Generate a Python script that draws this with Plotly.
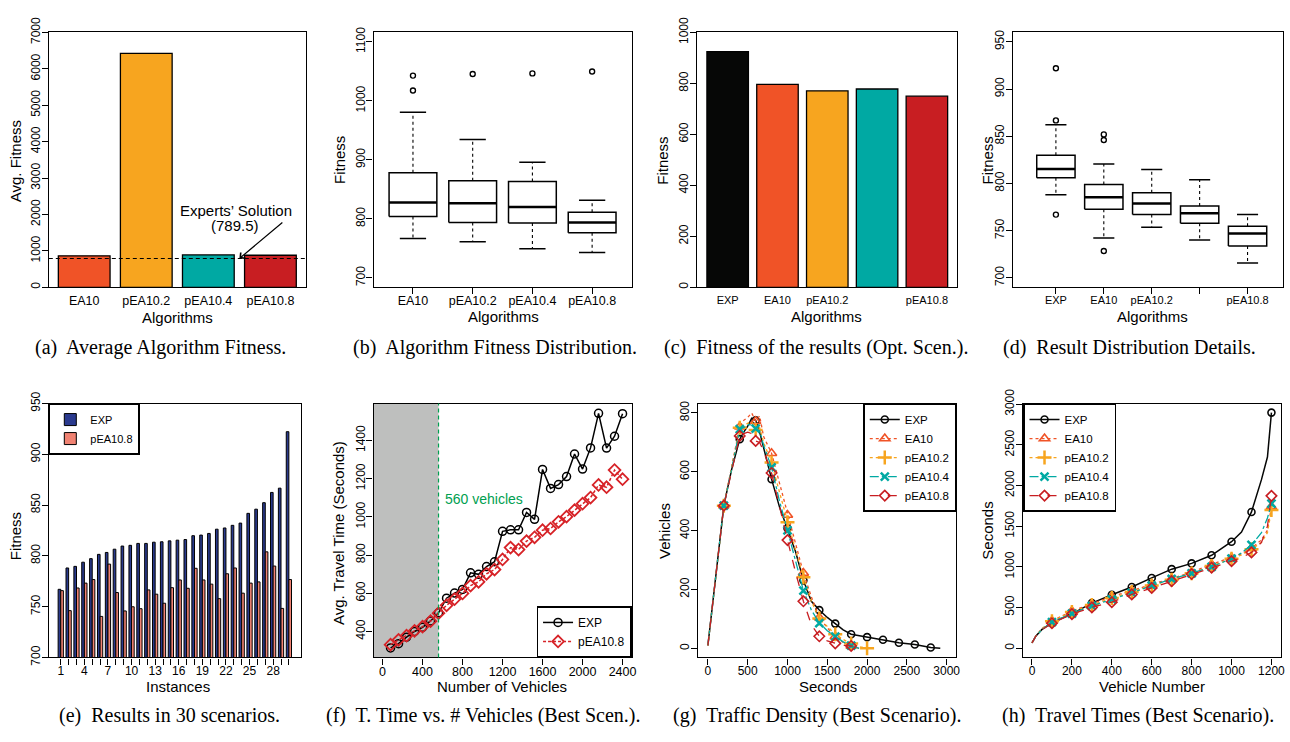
import plotly.graph_objects as go

W, H = 1290, 742
SANS = "Liberation Sans, Arial, Helvetica, sans-serif"
SERIF = "Liberation Serif, Times New Roman, serif"

# ---------------- data ----------------
# (a) average fitness
a_labels = ["EA10", "pEA10.2", "pEA10.4", "pEA10.8"]
a_fitness = [863, 6423, 890, 880]
experts_solution = 789.5

# (b) box statistics
b_labels = ["EA10", "pEA10.2", "pEA10.4", "pEA10.8"]
b_low = [766.6, 761.0, 749.5, 742.9]
b_q1 = [804.0, 794.0, 793.0, 776.5]
b_med = [827.6, 826.5, 820.0, 794.0]
b_q3 = [878.0, 864.5, 863.4, 811.0]
b_high = [980.6, 934.4, 895.9, 831.5]
b_out = [[1042.8, 1017.5], [1045.5], [1046.6], [1049.9]]

# (c) fitness of the results
c_labels = ["EXP", "EA10", "pEA10.2", "pEA10.4", "pEA10.8"]
c_ticktext = ["EXP", "EA10", "pEA10.2", "", "pEA10.8"]
c_fitness = [925, 796, 771, 778, 750]

# (d) box statistics
d_labels = ["EXP", "EA10", "pEA10.2", "pEA10.4", "pEA10.8"]
d_ticktext = ["EXP", "EA10", "pEA10.2", "", "pEA10.8"]
d_low = [788.0, 742.3, 753.6, 740.2, 715.8]
d_q1 = [806.0, 772.6, 767.0, 757.8, 733.7]
d_med = [815.2, 785.3, 778.7, 768.4, 747.1]
d_q3 = [830.0, 799.0, 790.1, 776.0, 754.7]
d_high = [862.3, 820.7, 814.9, 803.9, 767.0]
d_out = [[922.1, 866.8, 767.0], [852.0, 846.1, 728.5], [], [], []]

# (e) 30 scenarios
e_instances = list(range(1, 31))
e_exp = [767.1, 788.1, 789.7, 793.8, 797.3, 801.5, 803.4, 806.6, 809.7, 810.4,
         812.3, 812.3, 813.5, 813.9, 814.8, 815.5, 816.1, 819.9, 820.5, 822.1,
         826.3, 827.5, 830.1, 832.3, 841.9, 846.0, 852.4, 862.5, 866.7, 922.3]
e_pea = [765.8, 746.1, 768.4, 773.2, 776.7, 740.4, 791.9, 763.9, 745.8, 749.9,
         748.0, 766.5, 762.3, 753.4, 768.7, 776.3, 768.1, 787.8, 776.3, 772.2,
         757.9, 782.4, 788.1, 763.3, 773.2, 774.4, 804.0, 790.0, 748.3, 776.7]

# (f) travel time vs number of vehicles
f_vehicles = [80, 160, 240, 320, 400, 480, 560, 640, 720, 800, 880, 960, 1040, 1120, 1200,
              1280, 1360, 1440, 1520, 1600, 1680, 1760, 1840, 1920, 2000, 2080, 2160, 2240, 2320, 2400]
f_exp = [314, 336, 370, 400, 422, 455, 498, 574, 601, 620, 707, 699, 740, 765, 924,
         932, 932, 1023, 987, 1248, 1149, 1169, 1211, 1329, 1250, 1361, 1542, 1360, 1422, 1540]
f_pea = [331, 356, 378, 403, 425, 454, 496, 537, 569, 599, 640, 660, 702, 724, 777,
         839, 829, 873, 893, 930, 939, 974, 1001, 1035, 1069, 1101, 1167, 1155, 1245, 1197]
f_threshold = 560

# (g) traffic density
g_time = [0, 100, 200, 300, 400, 450, 500, 550, 600, 650, 700, 800, 900, 1000, 1100, 1200, 1300,
          1400, 1500, 1600, 1700, 1800, 1900, 2000, 2200, 2400, 2600, 2800, 2920]
g_exp = [10, 250, 485, 610, 711, 735, 755, 782, 775, 735, 680, 575, 480, 408, 330, 231, 160,
         130, 105, 84, 63, 48, 43, 38, 29, 19, 13, 3, 0]
g_ea10 = [10, 250, 485, 620, 753, 775, 785, 800, 772, 790, 720, 663, 560, 453, 350, 256, 175,
          105, 70, 40, 20, 8, 0, None, None, None, None, None, None]
g_pea2 = [10, 250, 485, 615, 750, 760, 765, 770, 742, 750, 700, 632, 530, 429, 335, 242, 160,
          101, 75, 48, 30, 16, 6, 0, None, None, None, None, None]
g_pea4 = [10, 250, 485, 612, 745, 750, 760, 760, 747, 740, 690, 615, 500, 401, 300, 196, 130,
          86, 60, 40, 22, 9, 0, None, None, None, None, None, None]
g_pea8 = [10, 250, 485, 605, 722, 730, 735, 730, 705, 700, 670, 596, 480, 368, 260, 160, 80,
          41, 25, 17, 10, 8, 0, None, None, None, None, None, None]

# (h) travel times
h_vehicle = [0, 20, 50, 100, 200, 300, 400, 500, 600, 700, 800, 900, 1000, 1050, 1100, 1150, 1180, 1200]
h_exp = [65, 150, 230, 310, 422, 553, 656, 752, 863, 971, 1042, 1142, 1309, 1428, 1675, 2072, 2350, 2897]
h_ea10 = [65, 150, 240, 335, 455, 545, 635, 705, 785, 855, 935, 1030, 1115, 1160, 1229, 1330, 1450, 1740]
h_pea2 = [65, 150, 235, 330, 445, 530, 615, 690, 770, 840, 920, 1010, 1100, 1145, 1217, 1300, 1420, 1700]
h_pea4 = [65, 150, 230, 320, 425, 520, 600, 680, 770, 850, 920, 1000, 1100, 1170, 1269, 1420, 1600, 1778]
h_pea8 = [65, 150, 225, 306, 418, 501, 565, 660, 740, 823, 911, 990, 1070, 1110, 1177, 1300, 1500, 1873]

captions = ["(a)\u00a0 Average Algorithm Fitness.",
            "(b)\u00a0 Algorithm Fitness Distribution.",
            "(c)\u00a0 Fitness of the results (Opt. Scen.).",
            "(d)\u00a0 Result Distribution Details.",
            "(e)\u00a0 Results in 30 scenarios.",
            "(f)\u00a0 T. Time vs. # Vehicles (Best Scen.).",
            "(g)\u00a0 Traffic Density (Best Scenario).",
            "(h)\u00a0 Travel Times (Best Scenario)."]

# ---------------- styles ----------------
COL = {"EXP": "#060706", "EA10": "#F05327", "pEA10.2": "#F7A51F",
       "pEA10.4": "#00A9A3", "pEA10.8": "#C81E22"}
E_COL = {"EXP": "#2A3A8E", "pEA10.8": "#F08272"}

def xd(a, b):
    return [a / W, b / W]

def yd(top, bottom):
    return [1 - bottom / H, 1 - top / H]

PANELS = {
    1: (xd(49, 307), yd(18, 281)),
    2: (xd(375, 634), yd(18, 281)),
    3: (xd(700, 961), yd(18, 281)),
    4: (xd(1017, 1288), yd(18, 281)),
    5: (xd(49, 302), yd(401, 663)),
    6: (xd(375, 634), yd(401, 663)),
    7: (xd(701, 960), yd(401, 663)),
    8: (xd(1027, 1286), yd(401, 663)),
}

def xr(i):
    return "x" if i == 1 else f"x{i}"

def yr(i):
    return "y" if i == 1 else f"y{i}"

layout = dict(width=W, height=H, margin=dict(l=0, r=0, t=0, b=0, pad=0),
              paper_bgcolor="white", plot_bgcolor="white", barmode="overlay",
              font=dict(family=SANS, size=12, color="black"), showlegend=True)

def axis(i, which, rng, tickvals, ticktext=None, size=12, tickcolor="black"):
    dom = PANELS[i][0] if which == "x" else PANELS[i][1]
    name = which + "axis" + ("" if i == 1 else str(i))
    d = dict(domain=dom, range=rng, anchor=(yr(i) if which == "x" else xr(i)),
             tickmode="array", tickvals=tickvals, showline=True, mirror=True,
             linecolor="black", linewidth=1.3, ticks="outside", ticklen=6, tickwidth=1.1,
             tickcolor=tickcolor, showgrid=False, zeroline=False, fixedrange=True,
             tickfont=dict(family=SANS, size=size, color="black"),
             tickangle=(-90 if which == "y" else 0),
             ticklabelstandoff=(-3 if which == "y" else -4))
    if ticktext is not None:
        d["ticktext"] = ticktext
    layout[name] = d

fig = go.Figure()
annotations = []
shapes = []

def pann(text, x, y, size=15, angle=0, family=SANS, color="black"):
    annotations.append(dict(text=text, x=x / W, y=1 - y / H, xref="paper", yref="paper",
                            showarrow=False, xanchor="center", yanchor="middle",
                            textangle=angle, font=dict(family=family, size=size, color=color)))

# ---------------- (a) ----------------
a_pos = [0.7 + 1.2 * k for k in range(len(a_labels))]
fig.add_trace(go.Bar(x=a_pos, y=a_fitness, width=1,
                     marker=dict(color=[COL[n] for n in a_labels], line=dict(color="black", width=1.3)),
                     xaxis=xr(1), yaxis=yr(1), showlegend=False, hoverinfo="skip"))
axis(1, "x", [0.016, 4.984], a_pos, a_labels, size=12.5, tickcolor="rgba(0,0,0,0)")
axis(1, "y", [0, 7000], [0, 1000, 2000, 3000, 4000, 5000, 6000, 7000], size=12)
shapes.append(dict(type="line", xref="x domain", yref="y", x0=0, x1=1,
                   y0=experts_solution, y1=experts_solution,
                   line=dict(color="black", width=1.1, dash="4px,3px")))
annotations.append(dict(x=3.70, y=experts_solution, xref="x", yref="y", ax=4.56, ay=1813,
                        axref="x", ayref="y", text="", showarrow=True, arrowhead=4,
                        arrowsize=1.2, arrowwidth=1.2, arrowcolor="black", standoff=0))
pann("Experts\u2019 Solution", 237, 202, size=15)
pann("(789.5)", 236, 217, size=15)

# ---------------- box helper ----------------
def add_boxes(i, centers, low, q1, med, q3, high, outs, hw=0.4, cw=0.22):
    rx, ry, mx, my, wx, wy, cx, cy, ox, oy = [], [], [], [], [], [], [], [], [], []
    for c, lo, a, m, b, hi, o in zip(centers, low, q1, med, q3, high, outs):
        rx += [c - hw, c + hw, c + hw, c - hw, c - hw, None]
        ry += [a, a, b, b, a, None]
        mx += [c - hw, c + hw, None]
        my += [m, m, None]
        wx += [c, c, None, c, c, None]
        wy += [b, hi, None, a, lo, None]
        cx += [c - cw, c + cw, None, c - cw, c + cw, None]
        cy += [hi, hi, None, lo, lo, None]
        ox += [c] * len(o)
        oy += list(o)
    common = dict(xaxis=xr(i), yaxis=yr(i), showlegend=False, hoverinfo="skip")
    fig.add_trace(go.Scatter(x=wx, y=wy, mode="lines", line=dict(color="black", width=1.1, dash="3px,3px"), **common))
    fig.add_trace(go.Scatter(x=cx, y=cy, mode="lines", line=dict(color="black", width=1.5), **common))
    fig.add_trace(go.Scatter(x=rx, y=ry, mode="lines", line=dict(color="black", width=1.5), **common))
    fig.add_trace(go.Scatter(x=mx, y=my, mode="lines", line=dict(color="black", width=2.5), **common))
    fig.add_trace(go.Scatter(x=ox, y=oy, mode="markers",
                             marker=dict(symbol="circle-open", size=5, color="black", line=dict(width=1.4)), **common))

# ---------------- (b) ----------------
b_pos = [k + 1 for k in range(len(b_labels))]
add_boxes(2, b_pos, b_low, b_q1, b_med, b_q3, b_high, b_out)
axis(2, "x", [0.34, 4.66], b_pos, b_labels, size=12.5)
axis(2, "y", [684, 1116], [700, 800, 900, 1000, 1100], size=12)

# ---------------- (c) ----------------
c_pos = [0.7 + 1.2 * k for k in range(len(c_labels))]
fig.add_trace(go.Bar(x=c_pos, y=c_fitness, width=1,
                     marker=dict(color=[COL[n] for n in c_labels], line=dict(color="black", width=1.3)),
                     xaxis=xr(3), yaxis=yr(3), showlegend=False, hoverinfo="skip"))
axis(3, "x", [-0.032, 6.232], c_pos, c_ticktext, size=11, tickcolor="rgba(0,0,0,0)")
axis(3, "y", [0, 1000], [0, 200, 400, 600, 800, 1000], size=12)

# ---------------- (d) ----------------
d_pos = [k + 1 for k in range(len(d_labels))]
add_boxes(4, d_pos, d_low, d_q1, d_med, d_q3, d_high, d_out)
axis(4, "x", [0.106, 5.74], d_pos, d_ticktext, size=11)
axis(4, "y", [690, 960], [700, 750, 800, 850, 900, 950], size=12)

# ---------------- (e) ----------------
e_exp_x = [3 * k - 1.5 for k in e_instances]
e_pea_x = [3 * k - 0.5 for k in e_instances]
e_tick = [3 * k - 1 for k in e_instances]
e_ticktext = [str(k) if (k - 1) % 3 == 0 else "" for k in e_instances]
fig.add_trace(go.Bar(x=e_exp_x, y=e_exp, width=1, name="EXP", legend="legend",
                     marker=dict(color=E_COL["EXP"], line=dict(color="black", width=1)),
                     xaxis=xr(5), yaxis=yr(5), hoverinfo="skip"))
fig.add_trace(go.Bar(x=e_pea_x, y=e_pea, width=1, name="pEA10.8", legend="legend",
                     marker=dict(color=E_COL["pEA10.8"], line=dict(color="black", width=1)),
                     xaxis=xr(5), yaxis=yr(5), hoverinfo="skip"))
axis(5, "x", [-2.56, 93.56], e_tick, e_ticktext, size=12)
axis(5, "y", [700, 950], [700, 750, 800, 850, 900, 950], size=12)

# ---------------- (f) ----------------
shapes.append(dict(type="rect", xref="x6", yref="y6 domain", x0=-90, x1=f_threshold, y0=0, y1=1,
                   fillcolor="rgb(190,191,190)", line=dict(width=0), layer="below"))
shapes.append(dict(type="line", xref="x6", yref="y6 domain", x0=f_threshold, x1=f_threshold, y0=0, y1=1,
                   line=dict(color="rgb(0,160,80)", width=1.2, dash="4px,3px")))
fig.add_trace(go.Scatter(x=f_vehicles, y=f_exp, mode="lines+markers", name="EXP", legend="legend2",
                         line=dict(color="black", width=1.5),
                         marker=dict(symbol="circle-open", size=8, color="black", line=dict(width=1.5)),
                         xaxis=xr(6), yaxis=yr(6), hoverinfo="skip"))
fig.add_trace(go.Scatter(x=f_vehicles, y=f_pea, mode="lines+markers", name="pEA10.8", legend="legend2",
                         line=dict(color="rgb(215,35,40)", width=1.5, dash="3px,2px"),
                         marker=dict(symbol="diamond-open", size=9, color="rgb(215,35,40)", line=dict(width=1.8)),
                         xaxis=xr(6), yaxis=yr(6), hoverinfo="skip"))
axis(6, "x", [-90, 2490], [0, 400, 800, 1200, 1600, 2000, 2400], size=12.5)
axis(6, "y", [264, 1593], [400, 600, 800, 1000, 1200, 1400], size=12)
annotations.append(dict(text="560 vehicles", x=1011, y=1096, xref="x6", yref="y6", showarrow=False,
                        xanchor="center", yanchor="middle",
                        font=dict(family=SANS, size=14, color="rgb(0,160,80)")))

# ---------------- (g) & (h) line helper ----------------
SERIES = [("EXP", "solid", "circle-open", 1.5, 7),
          ("EA10", "dot", "triangle-up-open", 1.3, 9),
          ("pEA10.2", "dot", "cross-thin-open", 1.3, 10),
          ("pEA10.4", "dashdot", "x-thin-open", 1.3, 8),
          ("pEA10.8", "dash", "diamond-open", 1.3, 8)]

def add_lines(i, xs, ys_list, step, legend_name):
    for (name, dash, sym, lw, ms), ys in zip(SERIES, ys_list):
        col = COL[name]
        mline = 2.5 if sym.endswith("thin-open") else 1.6
        fig.add_trace(go.Scatter(x=xs, y=ys, mode="lines", connectgaps=False,
                                 line=dict(color=col, width=lw, dash=dash),
                                 xaxis=xr(i), yaxis=yr(i), showlegend=False, hoverinfo="skip"))
        mx = [x for x, y in zip(xs, ys) if y is not None and x > 0 and x % step == 0]
        my = [y for x, y in zip(xs, ys) if y is not None and x > 0 and x % step == 0]
        fig.add_trace(go.Scatter(x=mx, y=my, mode="markers",
                                 marker=dict(symbol=sym, size=ms, color=col, line=dict(width=mline, color=col)),
                                 xaxis=xr(i), yaxis=yr(i), showlegend=False, hoverinfo="skip"))
    for name, dash, sym, lw, ms in SERIES:
        col = COL[name]
        mline = 2.5 if sym.endswith("thin-open") else 1.6
        fig.add_trace(go.Scatter(x=[None], y=[None], mode="lines+markers", name=name, legend=legend_name,
                                 line=dict(color=col, width=lw, dash=dash),
                                 marker=dict(symbol=sym, size=ms, color=col, line=dict(width=mline, color=col)),
                                 xaxis=xr(i), yaxis=yr(i), hoverinfo="skip"))

# ---------------- (g) ----------------
add_lines(7, g_time, [g_exp, g_ea10, g_pea2, g_pea4, g_pea8], 200, "legend3")
axis(7, "x", [-121, 3121], [0, 500, 1000, 1500, 2000, 2500, 3000], size=12)
axis(7, "y", [-31, 832], [0, 200, 400, 600, 800], size=12)

# ---------------- (h) ----------------
add_lines(8, h_vehicle, [h_exp, h_ea10, h_pea2, h_pea4, h_pea8], 100, "legend4")
axis(8, "x", [-45, 1248], [0, 200, 400, 600, 800, 1000, 1200], size=12)
axis(8, "y", [-115, 3008], [0, 500, 1000, 1500, 2000, 2500, 3000], size=12)

# ---------------- axis titles & captions ----------------
pann("Algorithms", 178, 312)
pann("Avg. Fitness", 15, 151, angle=-90)
pann("Algorithms", 505, 311)
pann("Fitness", 341, 150, angle=-90)
pann("Algorithms", 830, 311)
pann("Fitness", 665, 150, angle=-90)
pann("Algorithms", 1157, 311)
pann("Fitness", 991, 150, angle=-90)
pann("Instances", 179, 693)
pann("Fitness", 15, 538, angle=-90)
pann("Number of Vehicles", 504, 693)
pann("Avg. Travel Time (Seconds)", 340, 535, angle=-90)
pann("Seconds", 831, 693)
pann("Vehicles", 667, 532, angle=-90)
pann("Vehicle Number", 1156, 693)
pann("Seconds", 991, 532, angle=-90)

cap_pos = [(161, 343), (497, 343), (819, 343), (1134, 343),
           (170, 723), (485, 723), (820, 723), (1142, 723)]
for text, (cx, cy) in zip(captions, cap_pos):
    pann(text, cx, cy, size=20, family=SERIF)

# ---------------- legends ----------------
leg_common = dict(bordercolor="black", borderwidth=1.5, bgcolor="white", itemwidth=30,
                  tracegroupgap=0, itemclick=False, itemdoubleclick=False)
layout["legend"] = dict(x=49 / W, y=1 - 401 / H, xanchor="left", yanchor="top",
                        font=dict(family=SANS, size=11, color="black"), **leg_common)
layout["legend2"] = dict(x=634 / W, y=1 - 663 / H, xanchor="right", yanchor="bottom",
                         font=dict(family=SANS, size=12, color="black"), **leg_common)
layout["legend3"] = dict(x=960 / W, y=1 - 401 / H, xanchor="right", yanchor="top",
                         font=dict(family=SANS, size=11.5, color="black"), **leg_common)
layout["legend4"] = dict(x=1027 / W, y=1 - 401 / H, xanchor="left", yanchor="top",
                         font=dict(family=SANS, size=11.5, color="black"), **leg_common)

layout["annotations"] = annotations
layout["shapes"] = shapes
fig.update_layout(**layout)

fig.write_html("out.html", include_plotlyjs=True, config={"displayModeBar": False},
               post_script="document.body.style.margin='0px';document.body.style.overflow='hidden';")
